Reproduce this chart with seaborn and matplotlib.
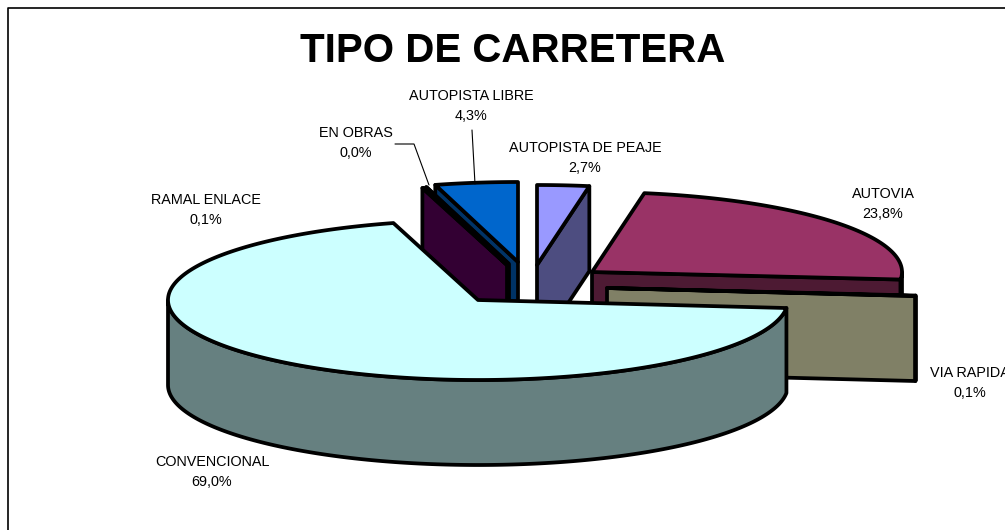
"""3D exploded pie of road types, drawn slice by slice."""
import matplotlib
matplotlib.use('Agg')
import matplotlib.pyplot as plt
from matplotlib.colors import to_rgb
import numpy as np
import seaborn as sns

# data, clockwise from the top of the pie
categories = ['AUTOPISTA DE PEAJE', 'AUTOVIA', 'VIA RAPIDA', 'CONVENCIONAL',
              'RAMAL ENLACE', 'EN OBRAS', 'AUTOPISTA LIBRE']
percent = [2.7, 23.8, 0.1, 69.0, 0.1, 0.0, 4.3]
percent_labels = ['2,7%', '23,8%', '0,1%', '69,0%', '0,1%', '0,0%', '4,3%']
colors = ['#9999FF', '#993366', '#FFFFCC', '#CCFFFF',
          '#660066', '#FF8080', '#0066CC']

# layout in pixels
CX, CY = 478, 300
RX, RY = 310, 80
DEPTH = 85
LW = 2.7
explode_x = [59, 114, 129, 0, 29, 31, 40]
explode_y = [-35, -28, -12, 0, -35, -36, -38]
label_x = [585, 883, 970, 212, 206, 356, 471]
label_y = [158, 204, 383, 472, 210, 143, 106]
# painter's order, back slices first
draw_order = [6, 5, 4, 0, 1, 2, 3]


def rim(cx, cy, deg):
    """Points on the top ellipse for angles in degrees."""
    rad = np.radians(deg)
    return cx + RX * np.cos(rad), cy - RY * np.sin(rad)


def draw_slice(ax, i, start, end):
    """Draws the walls and top of one slice, start > end in degrees."""
    cx, cy = CX + explode_x[i], CY + explode_y[i]
    face = colors[i]
    dark = tuple(c * 0.5 for c in to_rgb(face))
    style = dict(edgecolor='black', linewidth=LW, joinstyle='round')

    # radial walls that face the viewer
    for deg, show in ((start, np.cos(np.radians(start)) < -1e-6),
                      (end, np.cos(np.radians(end)) > 1e-6)):
        if show:
            rx, ry = rim(cx, cy, deg)
            ax.fill([cx, rx, rx, cx], [cy, ry, ry + DEPTH, cy + DEPTH],
                    facecolor=dark, **style)

    # outer wall, only the front half of the ellipse
    lo, hi = max(end, -180), min(start, 0)
    if hi > lo:
        t = np.linspace(lo, hi, 200)
        x, y = rim(cx, cy, t)
        ax.fill(np.r_[x, x[::-1]], np.r_[y, y[::-1] + DEPTH],
                facecolor=dark, **style)

    # top face
    t = np.linspace(end, start, 300)
    x, y = rim(cx, cy, t)
    ax.fill(np.r_[cx, x], np.r_[cy, y], facecolor=face, **style)


sns.set_theme(style='white')
plt.rcParams['font.family'] = ['Liberation Sans', 'DejaVu Sans']

fig = plt.figure(figsize=(10.05, 5.3), dpi=100)
ax = fig.add_axes([0, 0, 1, 1])
ax.set_xlim(0, 1005)
ax.set_ylim(530, 0)
ax.axis('off')

# chart border, runs off the picture on the right and at the bottom
ax.plot([8, 8, 1010], [535, 7.5, 7.5], color='black', lw=1.2)

edges = 90 - np.r_[0, np.cumsum(percent)] * 3.6
for i in draw_order:
    draw_slice(ax, i, edges[i], edges[i + 1])

# leader lines
ax.plot([395, 414, 429], [144, 144, 185], color='black', lw=0.8)
ax.plot([472, 475], [130, 184], color='black', lw=0.8)

for name, pct, x, y in zip(categories, percent_labels, label_x, label_y):
    ax.text(x, y, f'{name}\n{pct}', ha='center', va='center', fontsize=10.4,
            linespacing=1.6, color='black')

ax.text(513, 51, 'TIPO DE CARRETERA', ha='center', va='center',
        fontsize=29, fontweight='bold', color='black')

fig.savefig('out.png', dpi=100)
